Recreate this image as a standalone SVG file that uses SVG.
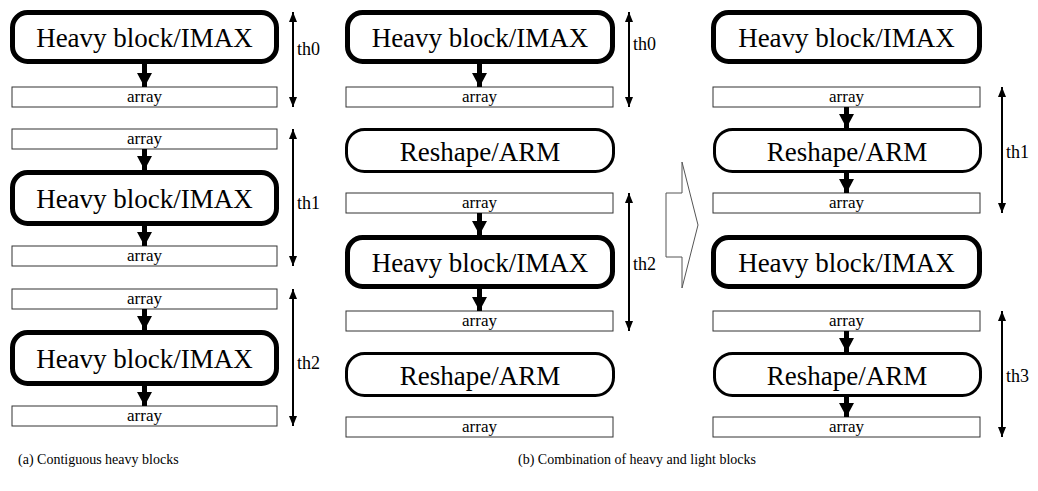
<svg xmlns="http://www.w3.org/2000/svg" width="1038" height="491" viewBox="0 0 1038 491">
<style>
text{font-family:"Liberation Serif",Tinos,"Times New Roman",Times,"Nimbus Roman","Noto Serif","DejaVu Serif",serif;fill:#000}
.heavy{fill:#fff;stroke:#000;stroke-width:5}
.light{fill:#fff;stroke:#000;stroke-width:3}
.arr{fill:#fff;stroke:#333;stroke-width:1}
.big{font-size:27px;text-anchor:middle}
.at{font-size:17px;text-anchor:middle}
.th{font-size:18px}
.cap{font-size:14px}
.flow{stroke:#000;stroke-width:5;marker-end:url(#fh)}
.span{stroke:#000;stroke-width:2;marker-start:url(#sh);marker-end:url(#sh)}
</style>
<defs>
<marker id="fh" markerUnits="userSpaceOnUse" markerWidth="15" markerHeight="15" refX="14" refY="7.5" orient="auto" viewBox="0 0 15 15"><path d="M0,0 L14,7.5 L0,15 z" fill="#000"/></marker>
<marker id="sh" markerUnits="userSpaceOnUse" markerWidth="10" markerHeight="8" refX="10" refY="4" orient="auto-start-reverse" viewBox="0 0 10 8"><path d="M0,0 L10,4 L0,8 z" fill="#000"/></marker>
</defs>

<!-- Column (a) -->
<g id="a-heavy1"><rect class="heavy" x="12.5" y="12.5" width="264" height="49" rx="15"/><text class="big" x="144.5" y="47">Heavy block/IMAX</text></g>
<g id="a-array1"><rect class="arr" x="12" y="87" width="265" height="20"/><text class="at" x="144.5" y="102">array</text></g>
<g id="a-array2"><rect class="arr" x="12" y="129" width="265" height="20"/><text class="at" x="144.5" y="144">array</text></g>
<g id="a-heavy2"><rect class="heavy" x="12.5" y="172.5" width="264" height="51" rx="15"/><text class="big" x="144.5" y="208">Heavy block/IMAX</text></g>
<g id="a-array3"><rect class="arr" x="12" y="246" width="265" height="20"/><text class="at" x="144.5" y="261">array</text></g>
<g id="a-array4"><rect class="arr" x="12" y="289" width="265" height="20"/><text class="at" x="144.5" y="304">array</text></g>
<g id="a-heavy3"><rect class="heavy" x="12.5" y="332.5" width="264" height="51" rx="15"/><text class="big" x="144.5" y="368">Heavy block/IMAX</text></g>
<g id="a-array5"><rect class="arr" x="12" y="406" width="265" height="20"/><text class="at" x="144.5" y="421">array</text></g>
<g id="a-th0"><text class="th" x="297" y="55">th0</text></g>
<g id="a-th1"><text class="th" x="297" y="209">th1</text></g>
<g id="a-th2"><text class="th" x="297" y="369">th2</text></g>

<!-- Column (b) left -->
<g id="b-heavy1"><rect class="heavy" x="347.5" y="12.5" width="265" height="49" rx="15"/><text class="big" x="480" y="47">Heavy block/IMAX</text></g>
<g id="b-array1"><rect class="arr" x="346" y="87" width="267" height="20"/><text class="at" x="479.5" y="102">array</text></g>
<g id="b-reshape1"><rect class="light" x="346.5" y="129.5" width="267" height="42" rx="18"/><text class="big" x="480" y="161">Reshape/ARM</text></g>
<g id="b-array2"><rect class="arr" x="346" y="193" width="267" height="20"/><text class="at" x="479.5" y="208">array</text></g>
<g id="b-heavy2"><rect class="heavy" x="347.5" y="237.5" width="265" height="49" rx="15"/><text class="big" x="480" y="272">Heavy block/IMAX</text></g>
<g id="b-array3"><rect class="arr" x="346" y="311" width="267" height="20"/><text class="at" x="479.5" y="326">array</text></g>
<g id="b-reshape2"><rect class="light" x="346.5" y="353.5" width="267" height="42" rx="18"/><text class="big" x="480" y="385">Reshape/ARM</text></g>
<g id="b-array4"><rect class="arr" x="346" y="417" width="267" height="20"/><text class="at" x="479.5" y="432">array</text></g>
<g id="b-th0"><text class="th" x="633" y="50">th0</text></g>
<g id="b-th2"><text class="th" x="633" y="270">th2</text></g>

<!-- transform arrow -->
<g id="transform"><polygon points="682,162 698,225 682,288 682,257 666,257 666,193 682,193" fill="#fff" stroke="#555" stroke-width="1"/></g>

<!-- Column (b) right -->
<g id="c-heavy1"><rect class="heavy" x="713.5" y="12.5" width="266" height="49" rx="15"/><text class="big" x="846.5" y="47">Heavy block/IMAX</text></g>
<g id="c-array1"><rect class="arr" x="713" y="87" width="267" height="20"/><text class="at" x="846.5" y="102">array</text></g>
<g id="c-reshape1"><rect class="light" x="714.5" y="129.5" width="266" height="42" rx="18"/><text class="big" x="847" y="161">Reshape/ARM</text></g>
<g id="c-array2"><rect class="arr" x="713" y="193" width="267" height="20"/><text class="at" x="846.5" y="208">array</text></g>
<g id="c-heavy2"><rect class="heavy" x="713.5" y="237.5" width="266" height="49" rx="15"/><text class="big" x="846.5" y="272">Heavy block/IMAX</text></g>
<g id="c-array3"><rect class="arr" x="713" y="311" width="267" height="20"/><text class="at" x="846.5" y="326">array</text></g>
<g id="c-reshape2"><rect class="light" x="714.5" y="353.5" width="266" height="42" rx="18"/><text class="big" x="847" y="385">Reshape/ARM</text></g>
<g id="c-array4"><rect class="arr" x="713" y="417" width="267" height="20"/><text class="at" x="846.5" y="432">array</text></g>
<g id="c-th1"><text class="th" x="1006" y="158">th1</text></g>
<g id="c-th3"><text class="th" x="1006" y="382">th3</text></g>

<!-- connectors -->
<g id="connectors">
<line class="flow" x1="144.5" y1="64" x2="144.5" y2="87"/>
<line class="flow" x1="144.5" y1="149" x2="144.5" y2="170"/>
<line class="flow" x1="144.5" y1="226" x2="144.5" y2="246"/>
<line class="flow" x1="144.5" y1="309" x2="144.5" y2="330"/>
<line class="flow" x1="144.5" y1="386" x2="144.5" y2="406"/>
<line class="flow" x1="479.5" y1="64" x2="479.5" y2="87"/>
<line class="flow" x1="479.5" y1="213" x2="479.5" y2="235"/>
<line class="flow" x1="479.5" y1="289" x2="479.5" y2="311"/>
<line class="flow" x1="846.5" y1="107" x2="846.5" y2="128"/>
<line class="flow" x1="846.5" y1="173" x2="846.5" y2="193"/>
<line class="flow" x1="846.5" y1="331" x2="846.5" y2="352"/>
<line class="flow" x1="846.5" y1="397" x2="846.5" y2="417"/>
<line class="span" x1="293" y1="12" x2="293" y2="107"/>
<line class="span" x1="293" y1="129" x2="293" y2="266"/>
<line class="span" x1="293" y1="289" x2="293" y2="426"/>
<line class="span" x1="629" y1="12" x2="629" y2="107"/>
<line class="span" x1="629" y1="193" x2="629" y2="331"/>
<line class="span" x1="1002" y1="87" x2="1002" y2="213"/>
<line class="span" x1="1002" y1="311" x2="1002" y2="437"/>
</g>

<g id="captions">
<text class="cap" x="18" y="464">(a) Contiguous heavy blocks</text>
<text class="cap" x="518" y="464">(b) Combination of heavy and light blocks</text>
</g>
</svg>
